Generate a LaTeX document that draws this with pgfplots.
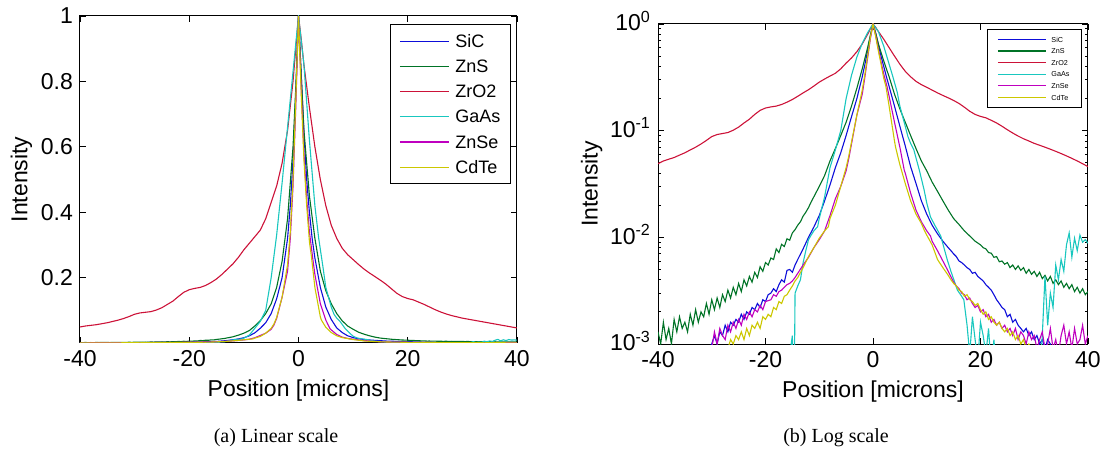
\documentclass[border=0pt]{standalone}
\usepackage{pgfplots}
\pgfplotsset{compat=1.18}
\usepackage{pgfplotstable}
\usepackage{fontspec}
\setmainfont{Liberation Sans}
\newfontfamily\capfont{Liberation Serif}

\definecolor{cSiC}{rgb}{0.05,0.05,0.85}
\definecolor{cZnS}{rgb}{0.0,0.45,0.15}
\definecolor{cZrO}{rgb}{0.80,0.07,0.22}
\definecolor{cGaAs}{rgb}{0.1,0.78,0.75}
\definecolor{cZnSe}{rgb}{0.75,0.0,0.75}
\definecolor{cCdTe}{rgb}{0.80,0.78,0.0}

\pgfplotstableread{
x y
-40 0.0006
-38 0.0007
-36 0.0006
-34 0.0008
-32 0.0007
-30.5 0.0009
-30 0.0010
-29.5 0.0012
-29 0.0010
-28.5 0.0013
-28 0.0012
-27.5 0.0015
-27 0.0013
-26.5 0.0016
-26 0.0015
-25.5 0.0017
-25 0.0016
-24.5 0.0019
-24 0.0017
-23.5 0.0020
-23 0.0019
-22.5 0.0022
-22 0.0021
-21.5 0.0024
-21 0.0022
-20.5 0.0026
-20 0.0025
-19.5 0.0029
-19 0.0030
-18.5 0.0033
-18 0.0031
-17.5 0.0036
-17 0.0040
-16.5 0.0038
-16 0.0049
-15.5 0.0050
-15 0.0047
-14.5 0.0055
-14 0.0062
-13 0.0078
-12 0.0100
-11 0.0125
-10 0.0160
-9 0.022
-8 0.031
-7 0.045
-6 0.062
-5 0.090
-4 0.135
-3 0.20
-2 0.32
-1.5 0.42
-1 0.56
-0.5 0.76
0 1.0
0.5 0.82
1 0.64
1.5 0.50
2 0.40
2.5 0.32
3 0.26
4 0.17
5 0.11
6 0.072
7 0.046
8 0.032
9 0.022
10 0.0165
11 0.0130
12 0.0108
13 0.0092
14 0.0080
14.5 0.0075
15 0.0070
15.5 0.0066
16 0.0060
16.5 0.0058
17 0.0055
17.5 0.0052
18 0.0050
18.5 0.0046
19 0.0047
19.5 0.0043
20 0.0041
20.5 0.0039
21 0.0036
21.5 0.0034
22 0.0032
22.5 0.0029
23 0.0026
23.5 0.0024
24 0.0022
24.5 0.0021
25 0.0018
25.5 0.0019
26 0.0016
26.5 0.0017
27 0.0015
27.5 0.0014
28 0.0013
28.5 0.0014
29 0.0012
29.5 0.0013
30 0.0011
30.5 0.0012
31 0.0010
31.5 0.0011
32 0.0009
32.5 0.0011
33 0.0010
33.5 0.0008
34 0.0009
36 0.0007
38 0.0008
40 0.0007
}\sic

\pgfplotstableread{
x y
-40 0.0013
-39.5 0.0010
-39 0.0016
-38.5 0.0011
-38 0.0014
-37.5 0.0010
-37 0.0017
-36.5 0.0013
-36 0.0018
-35.5 0.0014
-35 0.0016
-34.5 0.0013
-34 0.0019
-33.5 0.0015
-33 0.0021
-32.5 0.0016
-32 0.0020
-31.5 0.0018
-31 0.0024
-30.5 0.0019
-30 0.0026
-29.5 0.0021
-29 0.0027
-28.5 0.0022
-28 0.0029
-27.5 0.0025
-27 0.0032
-26.5 0.0027
-26 0.0034
-25.5 0.0029
-25 0.0037
-24.5 0.0031
-24 0.0040
-23.5 0.0035
-23 0.0043
-22.5 0.0038
-22 0.0047
-21.5 0.0042
-21 0.0053
-20.5 0.0048
-20 0.0058
-19.5 0.0055
-19 0.0064
-18.5 0.0062
-18 0.0078
-17.5 0.0072
-17 0.0086
-16.5 0.0082
-16 0.0097
-15.5 0.0094
-15 0.0110
-14.5 0.0118
-14 0.0130
-13.5 0.0140
-13 0.0158
-12.5 0.0172
-12 0.0190
-11.5 0.0215
-11 0.024
-10 0.030
-9 0.038
-8 0.052
-7 0.068
-6 0.090
-5 0.12
-4 0.17
-3 0.25
-2 0.38
-1 0.60
-0.5 0.78
0 1.0
0.5 0.82
1 0.65
2 0.45
3 0.32
4 0.22
5 0.16
6 0.12
7 0.09
8 0.068
9 0.052
10 0.042
11 0.033
12 0.027
13 0.022
14 0.018
15 0.015
16 0.0132
17 0.0115
18 0.0103
19 0.0092
20 0.0085
20.5 0.0080
21 0.0078
21.5 0.0072
22 0.0071
22.5 0.0065
23 0.0066
23.5 0.0059
24 0.0060
24.5 0.0056
25 0.0058
25.5 0.0052
26 0.0055
26.5 0.0050
27 0.0054
27.5 0.0049
28 0.0052
28.5 0.0046
29 0.0050
29.5 0.0045
30 0.0048
30.5 0.0043
31 0.0047
31.5 0.0041
32 0.0044
32.5 0.0039
33 0.0043
33.5 0.0037
34 0.0040
34.5 0.0036
35 0.0039
35.5 0.0034
36 0.0037
36.5 0.0033
37 0.0036
37.5 0.0031
38 0.0034
38.5 0.0030
39 0.0033
39.5 0.0029
40 0.0031
}\zns

\pgfplotstableread{
x y
-40 0.049
-39 0.052
-38 0.054
-37 0.056
-36 0.059
-35 0.062
-34 0.066
-33 0.070
-32 0.075
-31 0.081
-30 0.088
-29 0.092
-28 0.094
-27 0.096
-26 0.101
-25 0.108
-24 0.118
-23 0.128
-22 0.142
-21 0.155
-20 0.163
-19 0.167
-18 0.170
-17 0.176
-16 0.185
-15 0.196
-14 0.210
-13 0.226
-12 0.242
-11 0.262
-10 0.285
-9 0.305
-8 0.325
-7 0.345
-6 0.38
-5 0.43
-4 0.48
-3 0.55
-2 0.65
-1 0.80
-0.5 0.90
0 1.0
0.5 0.93
1 0.85
2 0.72
3 0.60
4 0.50
5 0.42
6 0.36
7 0.32
8 0.29
9 0.27
10 0.255
11 0.24
12 0.226
13 0.214
14 0.203
15 0.192
16 0.180
17 0.166
18 0.152
19 0.142
20 0.136
21 0.132
22 0.125
23 0.118
24 0.110
25 0.102
26 0.095
27 0.089
28 0.084
29 0.080
30 0.076
31 0.073
32 0.070
33 0.067
34 0.064
35 0.061
36 0.058
37 0.055
38 0.052
39 0.049
40 0.046
}\zro

\pgfplotstableread{
x y
-40 0.0004
-37 0.0005
-34 0.0004
-31 0.0006
-28 0.0005
-25 0.0006
-22 0.0007
-19 0.0006
-17 0.0008
-15.5 0.0008
-15 0.0012
-14.7 0.0002
-14.5 0.0030
-14 0.0035
-13.5 0.0040
-13 0.0058
-12.5 0.0075
-12 0.0095
-11.5 0.0105
-11 0.0115
-10.3 0.0126
-10 0.015
-9 0.024
-8 0.045
-7 0.066
-6 0.10
-5 0.20
-4 0.33
-3 0.49
-2 0.66
-1 0.83
0 1.0
1 0.85
2 0.62
3 0.42
3.7 0.32
4.5 0.23
5 0.17
6 0.11
6.5 0.088
7 0.076
7.6 0.066
8.6 0.043
9.5 0.028
10 0.021
10.7 0.0155
11.5 0.0130
12.6 0.0103
13.2 0.0080
13.8 0.0062
14.5 0.0048
15.2 0.0038
15.7 0.0032
16.3 0.0029
16.9 0.0026
17.5 0.0015
18 0.0008
18.5 0.0018
19 0.0011
19.5 0.0007
20 0.0016
20.5 0.0012
21 0.0008
21.5 0.0014
22 0.0006
22.5 0.0011
23 0.0005
25 0.0004
27 0.0005
29 0.0004
31 0.0005
31.5 0.0012
32 0.0043
32.5 0.0015
33 0.0030
33.5 0.0022
34 0.0055
34.5 0.0040
35 0.0062
35.5 0.0048
36 0.0085
36.5 0.0110
37 0.0065
37.5 0.0098
38 0.0075
38.5 0.0105
39 0.0090
39.5 0.0095
40 0.0088
}\gaas

\pgfplotstableread{
x y
-40 0.0005
-37 0.0007
-34 0.0006
-32 0.0008
-30.5 0.0007
-30 0.0009
-29.5 0.0013
-29 0.0010
-28.5 0.0014
-28 0.0012
-27.5 0.0011
-27 0.0015
-26.5 0.0013
-26 0.0016
-25.5 0.0014
-25 0.0017
-24.5 0.0015
-24 0.0019
-23.5 0.0017
-23 0.0020
-22.5 0.0018
-22 0.0021
-21.5 0.0020
-21 0.0023
-20.5 0.0021
-20 0.0025
-19 0.0026
-18.5 0.0029
-18 0.0028
-17.5 0.0031
-17 0.0032
-16.5 0.0034
-16 0.0036
-15.5 0.0037
-15 0.0039
-14.5 0.0042
-14 0.0046
-13 0.0055
-12 0.0065
-11 0.0080
-10 0.0095
-9 0.0115
-8 0.016
-7 0.023
-6 0.030
-5 0.042
-4.5 0.055
-4 0.075
-3 0.14
-2 0.22
-1.5 0.32
-1 0.48
-0.5 0.72
0 1.0
0.5 0.78
1 0.58
1.5 0.44
2 0.34
2.6 0.26
3 0.21
4 0.12
5 0.07
5.8 0.043
6 0.040
7 0.026
8 0.018
9 0.014
10 0.0115
10.7 0.0103
11 0.0092
12 0.0075
13 0.0060
14 0.0048
15 0.0038
15.5 0.0035
16 0.0033
16.5 0.0030
17 0.0029
17.5 0.0026
18 0.0027
18.5 0.0024
19 0.0022
19.5 0.0023
20 0.0020
20.5 0.0021
21 0.0018
21.5 0.0019
22 0.0016
22.5 0.0017
23 0.0015
23.5 0.0016
24 0.0014
24.5 0.0015
25 0.0013
25.5 0.0014
26 0.0012
26.5 0.0014
27 0.0011
27.5 0.0013
28 0.0012
28.5 0.0010
29 0.0013
29.5 0.0011
30 0.0012
30.5 0.0009
31 0.0011
31.5 0.0013
32 0.0009
32.5 0.0010
33 0.0014
33.5 0.0009
34 0.0011
34.5 0.0008
35 0.0012
35.5 0.0015
36 0.0010
36.5 0.0013
37 0.0009
37.5 0.0014
38 0.0010
38.5 0.0011
39 0.0015
39.5 0.0010
40 0.0012
}\znse

\pgfplotstableread{
x y
-40 0.0005
-37 0.0006
-34 0.0005
-31 0.0007
-29 0.0006
-27.5 0.0008
-27 0.0009
-26.5 0.0011
-26 0.0010
-25.5 0.0012
-25 0.0011
-24.5 0.0013
-24 0.0011
-23.5 0.0014
-23 0.0012
-22.5 0.0015
-22 0.0014
-21.5 0.0016
-21 0.0014
-20.5 0.0018
-20 0.0017
-19.5 0.0019
-19 0.0018
-18.5 0.0022
-18 0.0021
-17.5 0.0025
-17 0.0024
-16.5 0.0028
-16 0.0029
-15.5 0.0032
-15 0.0035
-14.5 0.0039
-14 0.0042
-13 0.0052
-12 0.0066
-11 0.0080
-10 0.0098
-9 0.0115
-8.3 0.0126
-8 0.015
-7 0.020
-6 0.030
-5 0.045
-4.5 0.058
-4 0.078
-3 0.14
-2 0.24
-1.5 0.34
-1 0.50
-0.5 0.74
0 1.0
0.5 0.76
1 0.56
1.5 0.42
2 0.31
2.4 0.26
3 0.17
4 0.08
4.2 0.070
5 0.048
6 0.032
7 0.022
8 0.0165
9 0.0135
9.5 0.0118
10 0.0105
11 0.0085
12 0.0062
13 0.0052
14 0.0044
14.5 0.0040
15 0.0037
15.5 0.0035
16 0.0032
16.5 0.0031
17 0.0028
17.5 0.0029
18 0.0026
18.5 0.0025
19 0.0023
19.5 0.0024
20 0.0021
20.5 0.0019
21 0.0020
21.5 0.0017
22 0.0018
22.5 0.0016
23 0.0015
23.5 0.0016
24 0.0014
24.5 0.0013
25 0.0014
25.5 0.0012
26 0.0013
26.5 0.0011
27 0.0012
27.5 0.0010
28 0.0011
28.5 0.0009
29 0.0010
30 0.0008
32 0.0007
34 0.0006
36 0.0007
38 0.0006
40 0.0006
}\cdte

\pgfplotsset{
  myax/.style={
    scale only axis,
    xmin=-40, xmax=40,
    xtick={-40,-20,0,20,40},
    xticklabels={-40,-20,0,20,40},
    tick align=inside,
    major tick length=3pt,
    minor tick length=1.6pt,
    axis line style={line width=0.5pt},
    every tick/.style={black,line width=0.4pt},
    tick label style={font=\fontsize{11.5}{13}\selectfont},
    label style={font=\fontsize{11.5}{13}\selectfont},
    xlabel={Position [microns]},
    ylabel={Intensity},
    every axis plot/.append style={line width=0.55pt},
    legend cell align=left,
    /pgf/number format/assume math mode=true,
  }
}

\begin{document}
\begin{tikzpicture}
\useasboundingbox (0,0) rectangle (552pt,227.5pt);

\begin{axis}[myax,
  at={(40pt,56pt)}, anchor=south west,
  width=218.5pt, height=163.5pt,
  ymin=0, ymax=1,
  ytick={0.2,0.4,0.6,0.8,1},
  yticklabels={0.2,0.4,0.6,0.8,1},
  ylabel style={xshift=0pt, yshift=-2.5pt},
  legend image code/.code={\draw[#1, line width=0.6pt] (0pt,0pt) -- (24.5pt,0pt);},
  legend style={at={(rel axis cs:0.986,0.9755)}, anchor=north east,
    line width=0.5pt, fill=white,
    font=\fontsize{9}{10}\selectfont,
    inner xsep=4.5pt, inner ysep=5.2pt,
    row sep=6.4pt, column sep=3pt,
    nodes={inner sep=0pt, text height=6.2pt, text depth=0pt, text width=23pt}},
]
\addplot[color=cSiC] table {\sic};
\addplot[color=cZnS] table {\zns};
\addplot[color=cZrO] table {\zro};
\addplot[color=cGaAs] table {\gaas};
\addplot[color=cZnSe] table {\znse};
\addplot[color=cCdTe] table {\cdte};
\legend{SiC,ZnS,ZrO2,GaAs,ZnSe,CdTe}
\end{axis}

\begin{axis}[myax,
  at={(329pt,55.5pt)}, anchor=south west,
  width=215pt, height=160pt,
  ymode=log, ymin=0.001, ymax=1,
  ytick={0.001,0.01,0.1,1},
  yticklabels={10\textsuperscript{-3},10\textsuperscript{-2},10\textsuperscript{-1},10\textsuperscript{0}},
  yticklabel style={yshift=1.5pt},
  ylabel style={yshift=-3pt},
  minor ytick={0.002,0.003,0.004,0.005,0.006,0.007,0.008,0.009,0.02,0.03,0.04,0.05,0.06,0.07,0.08,0.09,0.2,0.3,0.4,0.5,0.6,0.7,0.8,0.9},
  legend image code/.code={\draw[#1, line width=0.6pt] (0pt,0pt) -- (24pt,0pt);},
  legend style={at={(rel axis cs:0.986,0.984)}, anchor=north east,
    line width=0.5pt, fill=white,
    font=\fontsize{3.6}{4}\selectfont,
    inner xsep=4.7pt, inner ysep=3.6pt,
    row sep=3.2pt, column sep=2.5pt,
    nodes={inner sep=0pt, text height=2.6pt, text depth=0pt, text width=10.3pt}},
]
\addplot[color=cSiC] table {\sic};
\addplot[color=cZnS] table {\zns};
\addplot[color=cZrO] table {\zro};
\addplot[color=cGaAs] table {\gaas};
\addplot[color=cZnSe] table {\znse};
\addplot[color=cCdTe] table {\cdte};
\legend{SiC,ZnS,ZrO2,GaAs,ZnSe,CdTe}
\end{axis}

\node[font=\capfont\fontsize{10}{12}\selectfont] at (138pt,8.5pt) {(a) Linear scale};
\node[font=\capfont\fontsize{10}{12}\selectfont] at (418pt,8.5pt) {(b) Log scale};
\end{tikzpicture}
\end{document}
